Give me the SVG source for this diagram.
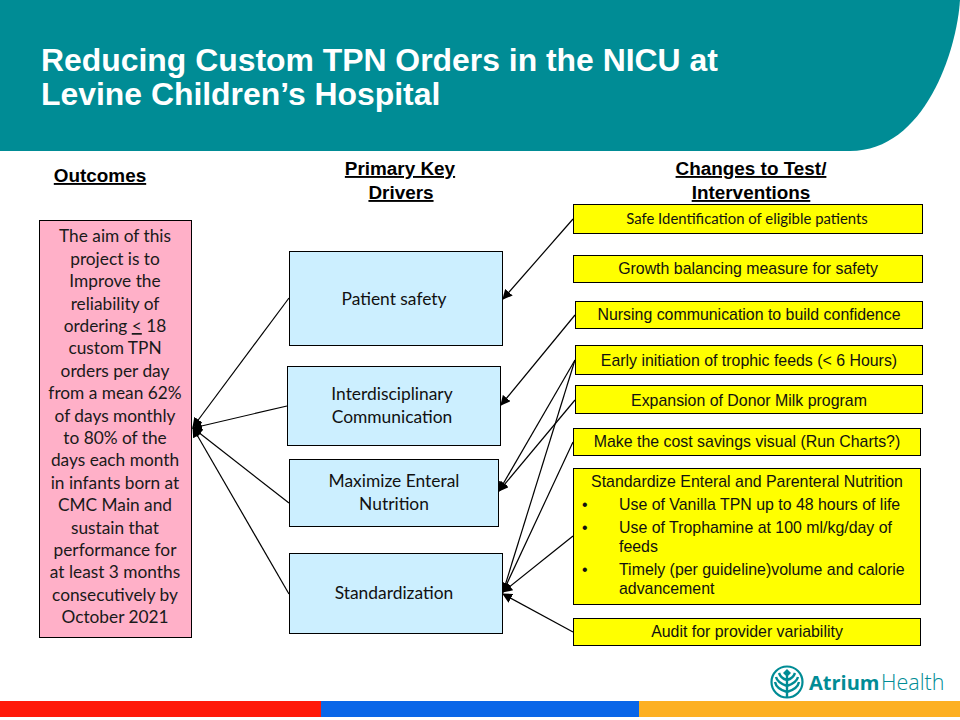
<svg xmlns="http://www.w3.org/2000/svg" width="960" height="720" viewBox="0 0 960 720">
<style>
.head{font:bold 18.900px "Liberation Sans",Arial,sans-serif;fill:#000;text-anchor:middle;text-decoration:underline}
.title{font:bold 31.900px "Liberation Sans",Arial,sans-serif;fill:#fff}
.box{stroke:#000;stroke-width:1}
.y{fill:#ffff00}
.b{fill:#ccefff}
.t{font:17.300px "Lato","Carlito",sans-serif;fill:#1a1a1a;text-anchor:middle}
.d{font:17.400px "Lato","Carlito",sans-serif;fill:#111;text-anchor:middle}
.a{font:15.900px "Liberation Sans",Arial,sans-serif;fill:#111;text-anchor:middle}
.l{font:15.900px "Liberation Sans",Arial,sans-serif;fill:#111}
.c{stroke:#000;stroke-width:1.2;fill:none;marker-end:url(#ah)}
</style>
<defs><marker id="ah" markerUnits="userSpaceOnUse" markerWidth="11" markerHeight="10" refX="9" refY="5" orient="auto"><path d="M0 0L10 5L0 10Z" fill="#000"/></marker></defs>
<rect width="960" height="720" fill="#fff"/>
<path id="banner" d="M0 0H960C957 50 925 151 850 151H0Z" fill="#008c95"/>
<text class="title" x="41" y="71">Reducing Custom TPN Orders in the NICU at</text>
<text class="title" x="41" y="105">Levine Children’s Hospital</text>
<text class="head" x="100" y="182">Outcomes</text>
<text class="head" x="400" y="175">Primary Key</text>
<text class="head" x="401" y="199">Drivers</text>
<text class="head" x="751" y="175">Changes to Test/</text>
<text class="head" x="751" y="199">Interventions</text>
<g id="connectors">
<path class="c" d="M289 298L193 427"/>
<path class="c" d="M287 406L193 428"/>
<path class="c" d="M289 503L193 428"/>
<path class="c" d="M289 594L193 428"/>
<path class="c" d="M573 219L503 299"/>
<path class="c" d="M575 315L501 405"/>
<path class="c" d="M575 360L499 491"/>
<path class="c" d="M575 400L499 491"/>
<path class="c" d="M575 360L503 592"/>
<path class="c" d="M573 442L503 592"/>
<path class="c" d="M573 536L503 592"/>
<path class="c" d="M573 632L503 594"/>
</g>
<g id="aim"><rect class="box" x="39.500" y="220.500" width="152" height="417" fill="#ffb0c8"/>
<text class="t" x="115" y="242">The aim of this</text>
<text class="t" x="115" y="265">project is to</text>
<text class="t" x="115" y="287">Improve the</text>
<text class="t" x="115" y="310">reliability of</text>
<text class="t" x="115" y="332">ordering <tspan text-decoration="underline">&lt;</tspan> 18</text>
<text class="t" x="115" y="354">custom TPN</text>
<text class="t" x="115" y="377">orders per day</text>
<text class="t" x="115" y="399">from a mean 62%</text>
<text class="t" x="115" y="422">of days monthly</text>
<text class="t" x="115" y="444">to 80% of the</text>
<text class="t" x="115" y="466">days each month</text>
<text class="t" x="115" y="489">in infants born at</text>
<text class="t" x="115" y="511">CMC Main and</text>
<text class="t" x="115" y="534">sustain that</text>
<text class="t" x="115" y="556">performance for</text>
<text class="t" x="115" y="578">at least 3 months</text>
<text class="t" x="115" y="601">consecutively by</text>
<text class="t" x="115" y="623">October 2021</text></g>
<g id="driver1"><rect class="box b" x="289.500" y="251.500" width="213" height="94"/><text class="d" x="394" y="305">Patient safety</text></g>
<g id="driver2"><rect class="box b" x="287.500" y="366.500" width="213" height="79"/><text class="d" x="392" y="400">Interdisciplinary</text><text class="d" x="392" y="423">Communication</text></g>
<g id="driver3"><rect class="box b" x="289.500" y="459.500" width="209" height="67"/><text class="d" x="394" y="487">Maximize Enteral</text><text class="d" x="394" y="510">Nutrition</text></g>
<g id="driver4"><rect class="box b" x="289.500" y="553.500" width="213" height="80"/><text class="d" x="394" y="599">Standardization</text></g>
<g id="c1"><rect class="box y" x="573.500" y="204.500" width="349" height="29"/><text x="747" y="224" style="font:14.900px Lato,Carlito,sans-serif;fill:#111;text-anchor:middle">Safe Identification of eligible patients</text></g>
<g id="c2"><rect class="box y" x="573.500" y="255.500" width="349" height="27"/><text class="a" x="748" y="274">Growth balancing measure for safety</text></g>
<g id="c3"><rect class="box y" x="575.500" y="301.500" width="347" height="27"/><text class="a" x="749" y="320">Nursing communication to build confidence</text></g>
<g id="c4"><rect class="box y" x="575.500" y="345.500" width="347" height="29"/><text class="a" x="749" y="366">Early initiation of trophic feeds (&lt; 6 Hours)</text></g>
<g id="c5"><rect class="box y" x="575.500" y="385.500" width="347" height="28"/><text class="a" x="749" y="406">Expansion of Donor Milk program</text></g>
<g id="c6"><rect class="box y" x="573.500" y="428.500" width="347" height="27"/><text class="a" x="747" y="447">Make the cost savings visual (Run Charts?)</text></g>
<g id="c7"><rect class="box y" x="573.500" y="468.500" width="347" height="136"/>
<text class="a" x="747" y="487">Standardize Enteral and Parenteral Nutrition</text>
<text class="l" x="582" y="510">•</text><text class="l" x="619" y="510">Use of Vanilla TPN up to 48 hours of life</text>
<text class="l" x="582" y="533">•</text><text class="l" x="619" y="533">Use of Trophamine at 100 ml/kg/day of</text><text class="l" x="619" y="552">feeds</text>
<text class="l" x="582" y="575">•</text><text class="l" x="619" y="575">Timely (per guideline)volume and calorie</text><text class="l" x="619" y="594">advancement</text></g>
<g id="c8"><rect class="box y" x="573.500" y="618.500" width="347" height="27"/><text class="a" x="747" y="637">Audit for provider variability</text></g>
<g id="logo">
<circle cx="787" cy="682" r="15.500" fill="none" stroke="#008c95" stroke-width="2.200"/>
<path d="M787 698V676M787 692C780 690 776 687 775 682M787 692C794 690 798 687 799 682M787 686C781 684 777 681 776 677M787 686C793 684 797 681 798 677M787 680C783 679 780 676 779 673M787 680C791 679 794 676 795 673" fill="none" stroke="#008c95" stroke-width="2.400"/>
<path d="M787 669l4 4l-4 4l-4-4Z" fill="#008c95"/>
<text x="809" y="690" style="font:bold 20px 'Open Sans','Liberation Sans',sans-serif;fill:#008c95">Atrium</text>
<text x="881" y="690" style="font:300 21.500px 'Open Sans','Liberation Sans',sans-serif;fill:#008c95">Health</text>
</g>
<rect x="0" y="701" width="321" height="16" fill="#ff1a0a"/>
<rect x="321" y="701" width="318" height="16" fill="#0a66e8"/>
<rect x="639" y="701" width="321" height="16" fill="#fdb022"/>
</svg>
